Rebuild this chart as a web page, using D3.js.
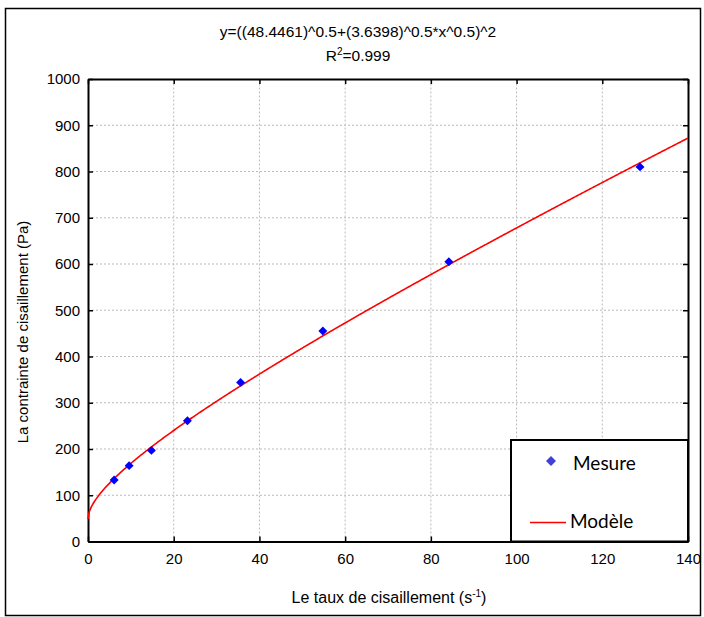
<!DOCTYPE html>
<html>
<head>
<meta charset="utf-8">
<script src="https://cdn.jsdelivr.net/npm/d3@7"></script>
<style>
  body { margin: 0; background: #fff; }
  text { font-family: "Liberation Sans", Arial, sans-serif; fill: #000; }
  .legend text { font-family: Lato, "Open Sans", sans-serif; }
</style>
</head>
<body>
<div id="chart"></div>
<script>
// measured points (shear rate, shear stress)
const rate = [6.1, 9.6, 14.8, 23.2, 35.6, 54.8, 84.2, 128.8];
const stress = [133, 164, 197, 261, 344, 455, 605, 810];

// Casson model parameters from the title
const tau0 = 48.4461;
const eta = 3.6398;

const xTicks = [0, 20, 40, 60, 80, 100, 120, 140];
const yTicks = [0, 100, 200, 300, 400, 500, 600, 700, 800, 900, 1000];

const width = 704, height = 617;
const margin = {top: 79, left: 88, right: 15, bottom: 75};

const svg = d3.select("#chart")
    .append("svg")
    .attr("width", width)
    .attr("height", height);

// outer frame
svg.append("rect")
    .attr("x", 5.5).attr("y", 8.5)
    .attr("width", 695).attr("height", 607)
    .attr("fill", "none")
    .attr("stroke", "#000")
    .attr("stroke-width", 1.5);

const xScale = d3.scaleLinear()
    .domain([0, 140])
    .range([margin.left, width - margin.right - 1]);

const yScale = d3.scaleLinear()
    .domain([0, 1000])
    .range([height - margin.bottom - 0.5, margin.top]);

// grid
svg.append("g")
    .selectAll("line")
    .data(xTicks.slice(1, -1))
    .enter().append("line")
    .attr("x1", d => xScale(d)).attr("x2", d => xScale(d))
    .attr("y1", yScale(0)).attr("y2", yScale(1000))
    .attr("stroke", "#bbb")
    .attr("stroke-dasharray", "2,2");

svg.append("g")
    .selectAll("line")
    .data(yTicks.slice(1, -1))
    .enter().append("line")
    .attr("y1", d => yScale(d)).attr("y2", d => yScale(d))
    .attr("x1", xScale(0)).attr("x2", xScale(140))
    .attr("stroke", "#bbb")
    .attr("stroke-dasharray", "2,2");

// axes with inward ticks
const fmt = d3.format("d");
svg.append("g")
    .attr("transform", `translate(0,${yScale(0)})`)
    .call(d3.axisBottom(xScale).tickValues(xTicks).tickFormat(fmt)
        .tickSizeInner(-5).tickSizeOuter(0).tickPadding(12));

svg.append("g")
    .attr("transform", `translate(${xScale(0)},0)`)
    .call(d3.axisLeft(yScale).tickValues(yTicks).tickFormat(fmt)
        .tickSizeInner(-5).tickSizeOuter(0).tickPadding(8));

svg.append("g")
    .attr("transform", `translate(0,${yScale(1000)})`)
    .call(d3.axisTop(xScale).tickValues(xTicks).tickSizeInner(-5).tickSizeOuter(0).tickFormat(""));

svg.append("g")
    .attr("transform", `translate(${xScale(140)},0)`)
    .call(d3.axisRight(yScale).tickValues(yTicks).tickSizeInner(-5).tickSizeOuter(0).tickFormat(""));

svg.selectAll(".domain").attr("stroke", "#000").attr("stroke-width", 2);
svg.selectAll(".tick line").attr("stroke", "#000").attr("stroke-width", 1.5);
svg.selectAll(".tick text")
    .attr("font-size", 15)
    .attr("font-family", "Liberation Sans, Arial, sans-serif");

// model curve
const xs = d3.range(0, 140.01, 0.25);
const line = d3.line()
    .x(d => xScale(d))
    .y(d => yScale(Math.pow(Math.sqrt(tau0) + Math.sqrt(eta) * Math.sqrt(d), 2)));

svg.append("path")
    .datum(xs)
    .attr("d", line)
    .attr("fill", "none")
    .attr("stroke", "#ff0000")
    .attr("stroke-width", 1.6);

// measured points
const marker = d3.symbol().type(d3.symbolSquare).size(40);
svg.append("g")
    .selectAll("path")
    .data(rate)
    .enter().append("path")
    .attr("d", marker)
    .attr("transform", (d, i) => `translate(${xScale(d)},${yScale(stress[i])}) rotate(45)`)
    .attr("fill", "#0000ff");

// title
svg.append("text")
    .attr("x", 358).attr("y", 37)
    .attr("text-anchor", "middle")
    .attr("font-size", 15.5)
    .text("y=((48.4461)^0.5+(3.6398)^0.5*x^0.5)^2");

const r2 = svg.append("text")
    .attr("x", 358).attr("y", 61)
    .attr("text-anchor", "middle")
    .attr("font-size", 15.5);
r2.append("tspan").text("R");
r2.append("tspan").attr("font-size", 10).attr("dy", -6).text("2");
r2.append("tspan").attr("dy", 6).text("=0.999");

// axis labels
const xl = svg.append("text")
    .attr("x", 389).attr("y", 603)
    .attr("text-anchor", "middle")
    .attr("font-size", 16);
xl.append("tspan").text("Le taux de cisaillement (s");
xl.append("tspan").attr("font-size", 10).attr("dy", -6).text("-1");
xl.append("tspan").attr("dy", 6).text(")");

svg.append("text")
    .attr("transform", "rotate(-90)")
    .attr("x", -332).attr("y", 28)
    .attr("text-anchor", "middle")
    .attr("font-size", 15)
    .text("La contrainte de cisaillement (Pa)");

// legend
const legend = svg.append("g").attr("class", "legend");
legend.append("rect")
    .attr("x", 511).attr("y", 440)
    .attr("width", xScale(140) - 511).attr("height", yScale(0) - 440)
    .attr("fill", "#fff")
    .attr("stroke", "#000")
    .attr("stroke-width", 2);

legend.append("path")
    .attr("d", d3.symbol().type(d3.symbolSquare).size(50))
    .attr("transform", "translate(551,461) rotate(45)")
    .attr("fill", "#4040d8");
legend.append("text")
    .attr("x", 573).attr("y", 470)
    .attr("font-size", 19)
    .text("Mesure");

legend.append("line")
    .attr("x1", 530).attr("x2", 566)
    .attr("y1", 522.5).attr("y2", 522.5)
    .attr("stroke", "#ff0000")
    .attr("stroke-width", 1.5);
legend.append("text")
    .attr("x", 570).attr("y", 528)
    .attr("font-size", 19)
    .text("Modèle");
</script>
</body>
</html>
